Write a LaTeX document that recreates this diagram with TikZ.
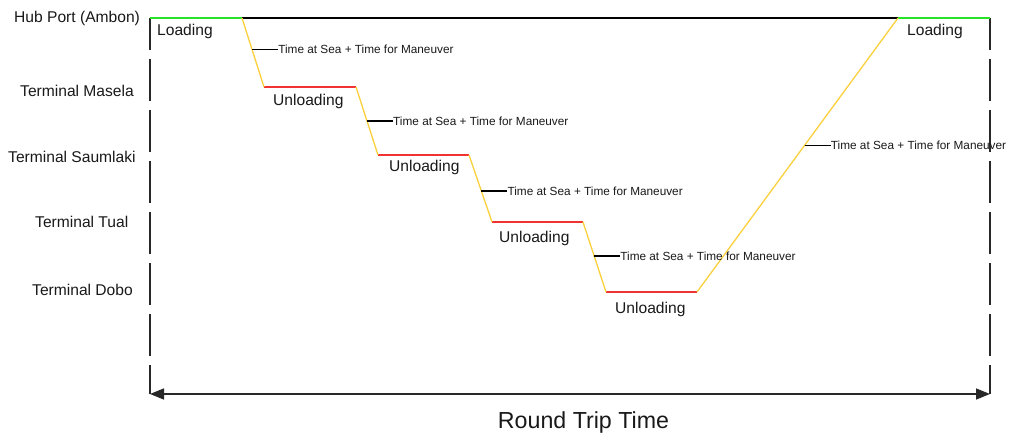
\documentclass[tikz,border=0pt]{standalone}
\usepackage{fontspec}
\setmainfont{Liberation Sans}
\usetikzlibrary{arrows.meta}

\definecolor{loadgreen}{RGB}{40,228,40}
\definecolor{unloadred}{RGB}{240,50,50}
\definecolor{seayellow}{RGB}{250,208,60}
\definecolor{axisgray}{RGB}{40,40,40}

\tikzset{
  levelname/.style={font=\fontsize{15.6}{18}\selectfont, inner sep=0pt, anchor=base west, text=black!90},
  phasename/.style={font=\fontsize{15.6}{18}\selectfont, inner sep=0pt, anchor=base west, text=black!90},
  seanote/.style={font=\fontsize{11.8}{14}\selectfont, inner sep=0pt, anchor=west, text=black!90},
  timeaxis/.style={line width=1.8pt, draw=axisgray, dash pattern=on 42pt off 9pt, dash phase=10pt},
  loadline/.style={line width=2pt, draw=loadgreen},
  unloadline/.style={line width=2pt, draw=unloadred},
  sealine/.style={line width=1.3pt, draw=seayellow},
  leader/.style={line width=1.2pt, draw=black},
  spanarrow/.style={line width=1.5pt, draw=axisgray, {Triangle[length=14pt,width=11pt]}-{Triangle[length=14pt,width=11pt]}}
}

\begin{document}
\begin{tikzpicture}[x=1pt, y=-1pt]
  \useasboundingbox (0,0) rectangle (1013,433);

  % route corner points
  \coordinate (h0) at (150,18);
  \coordinate (a0) at (242,18);
  \coordinate (m0) at (264,87);
  \coordinate (m1) at (356,87);
  \coordinate (s0) at (378,155);
  \coordinate (s1) at (469,155);
  \coordinate (t0) at (492,222);
  \coordinate (t1) at (583,222);
  \coordinate (d0) at (606,292);
  \coordinate (d1) at (697,292);
  \coordinate (a1) at (898,18);
  \coordinate (h1) at (990,18);
  \coordinate (bl) at (150,394);
  \coordinate (br) at (990,394);

  % dashed time bounds and round trip span
  \draw[timeaxis] (h0) -- (bl);
  \draw[timeaxis] (h1) -- (br);
  \draw[spanarrow] (bl) -- (br);

  % level names
  \node[levelname] (lhub) at (14,23) {Hub Port (Ambon)};
  \node[levelname] (lmas) at (20,97) {Terminal Masela};
  \node[levelname] (lsau) at (8,163) {Terminal Saumlaki};
  \node[levelname] (ltua) at (35,228) {Terminal Tual};
  \node[levelname] (ldob) at (32,295) {Terminal Dobo};

  % hub level baseline
  \draw[line width=1.5pt, draw=black] (a0) -- (a1);

  % loading and unloading stays
  \draw[loadline] (h0) -- (a0);
  \draw[loadline] (a1) -- (h1);
  \draw[unloadline] (m0) -- (m1);
  \draw[unloadline] (s0) -- (s1);
  \draw[unloadline] (t0) -- (t1);
  \draw[unloadline] (d0) -- (d1);

  % sailing legs
  \draw[sealine] (a0) -- coordinate[pos=0.46] (p1) (m0);
  \draw[sealine] (m1) -- coordinate[pos=0.5] (p2) (s0);
  \draw[sealine] (s1) -- coordinate[pos=0.537] (p3) (t0);
  \draw[sealine] (t1) -- coordinate[pos=0.486] (p4) (d0);
  \draw[sealine] (d1) -- coordinate[pos=0.536] (p5) (a1);

  % phase labels
  \node[phasename] (ld1) at (157,36) {Loading};
  \node[phasename] (ld2) at (907,36) {Loading};
  \node[phasename] (ul1) at (273,106) {Unloading};
  \node[phasename] (ul2) at (389,172) {Unloading};
  \node[phasename] (ul3) at (499,243) {Unloading};
  \node[phasename] (ul4) at (615,313) {Unloading};

  % sailing notes with leaders
  \foreach \p/\n in {p1/n1, p2/n2, p3/n3, p4/n4, p5/n5} {
    \node[seanote] (\n) at ([xshift=26pt]\p) {Time at Sea + Time for Maneuver};
    \draw[leader] (\p) -- (\n.west);
  }

  % span title
  \node[font=\fontsize{23.2}{27}\selectfont, inner sep=0pt, anchor=base, text=black!90] (rtt) at (583.5,428) {Round Trip Time};
\end{tikzpicture}
\end{document}
